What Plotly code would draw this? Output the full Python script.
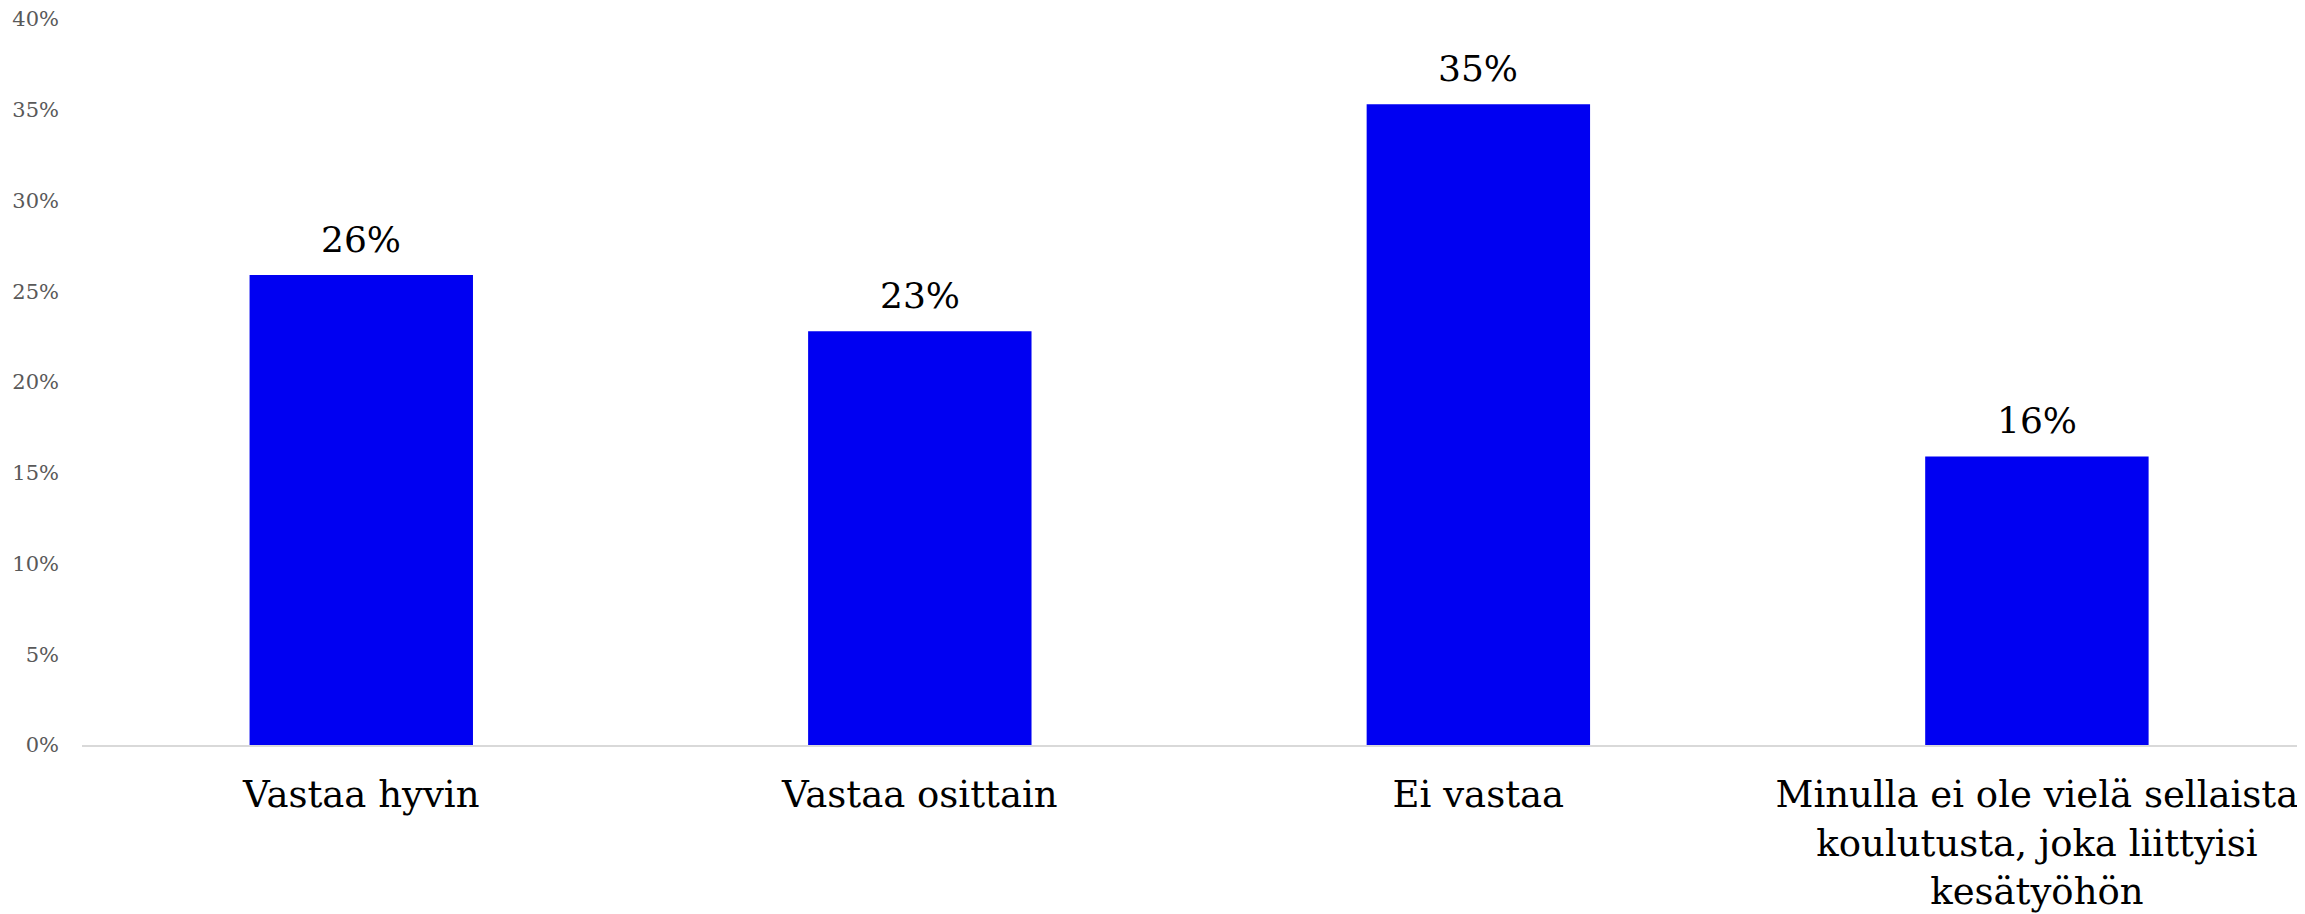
import plotly.graph_objects as go

categories = ["Vastaa hyvin", "Vastaa osittain", "Ei vastaa",
              "Minulla ei ole vielä sellaista<br>koulutusta, joka liittyisi<br>kesätyöhön"]
values = [25.9, 22.8, 35.3, 15.9]
labels = ["26%", "23%", "35%", "16%"]
y_ticks = [0, 5, 10, 15, 20, 25, 30, 35, 40]
y_tick_text = [f"{v}%" for v in y_ticks]

FONT = "Georgia, 'DejaVu Serif', serif"

fig = go.Figure(go.Bar(
    x=list(range(len(categories))), y=values,
    marker=dict(color="#0000F2", line=dict(width=0)),
    width=0.4,
    hoverinfo="skip",
))

for i, (v, t) in enumerate(zip(values, labels)):
    fig.add_annotation(x=i, y=v, text=t, showarrow=False, yanchor="bottom",
                       yshift=13, font=dict(family=FONT, size=36, color="#000000"))

fig.update_layout(
    width=2297, height=906,
    margin=dict(l=74, r=0, t=11, b=169),
    plot_bgcolor="white", paper_bgcolor="white",
    showlegend=False,
    xaxis=dict(
        range=[-0.5, 3.48], automargin=False,
        tickmode="array", tickvals=list(range(len(categories))), ticktext=categories,
        tickfont=dict(family=FONT, size=37, color="#000000"),
        showline=True, linecolor="#D9D9D9", linewidth=2,
        showgrid=False, zeroline=False, ticks="", ticklabelstandoff=16,
    ),
    yaxis=dict(
        range=[0, 40], automargin=False, ticklabeloverflow="allow",
        tickmode="array", tickvals=y_ticks, ticktext=y_tick_text,
        tickfont=dict(family=FONT, size=21, color="#595959"),
        showgrid=False, zeroline=False, showline=False, ticks="",
        ticklabelstandoff=22,
    ),
)

fig.write_html("out.html")
